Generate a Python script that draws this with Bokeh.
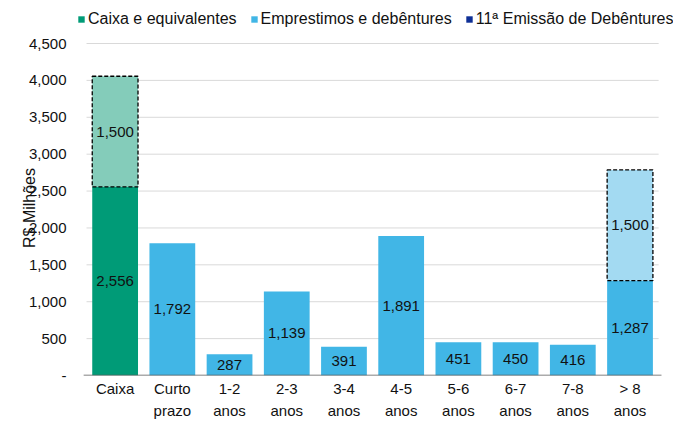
from bokeh.plotting import figure
from bokeh.models import ColumnDataSource, Legend, LegendItem, NumeralTickFormatter, Range1d, FixedTicker
from bokeh.core.properties import value
from bokeh.embed import file_html
from bokeh.resources import INLINE

categories = ["Caixa", "Curto prazo", "1-2 anos", "2-3 anos", "3-4 anos", "4-5 anos",
              "5-6 anos", "6-7 anos", "7-8 anos", "> 8 anos"]
tick_labels = ["Caixa", "Curto\nprazo", "1-2\nanos", "2-3\nanos", "3-4\nanos", "4-5\nanos",
               "5-6\nanos", "6-7\nanos", "7-8\nanos", "> 8\nanos"]
base_values = [2556, 1792, 287, 1139, 391, 1891, 451, 450, 416, 1287]
issue_categories = ["Caixa", "> 8 anos"]
issue_values = [1500, 1500]
series_names = ["Caixa e equivalentes", "Emprestimos e debêntures", "11ª Emissão de Debêntures"]
y_ticks = [0, 500, 1000, 1500, 2000, 2500, 3000, 3500, 4000, 4500]
y_title = "R$ Milhões"

GREEN = "#009B77"
LIGHT_GREEN = "#84CCBA"
BLUE = "#41B6E6"
LIGHT_BLUE = "#A3DAF2"
NAVY = "#0E2F96"
FONT = "Liberation Sans"

n = len(categories)
xpos = list(range(n))

base_colors = [GREEN if c == "Caixa" else BLUE for c in categories]
base_src = ColumnDataSource(dict(
    x=xpos, top=base_values, color=base_colors,
    mid=[v / 2 for v in base_values], label=[f"{v:,}" for v in base_values]))

issue_x = [categories.index(c) for c in issue_categories]
issue_bottoms = [base_values[i] for i in issue_x]
issue_src = ColumnDataSource(dict(
    x=issue_x, bottom=issue_bottoms,
    top=[b + v for b, v in zip(issue_bottoms, issue_values)],
    color=[LIGHT_GREEN if c == "Caixa" else LIGHT_BLUE for c in issue_categories],
    mid=[b + v / 2 for b, v in zip(issue_bottoms, issue_values)],
    label=[f"{v:,}" for v in issue_values]))

p = figure(x_range=Range1d(-0.78, 9.76), y_range=Range1d(0, 5083),
           width=673, height=421, output_backend="svg", toolbar_location=None,
           min_border_left=70, min_border_right=0, min_border_top=0, min_border_bottom=43)
p.outline_line_color = None
p.background_fill_color = "white"
p.grid.visible = False

# horizontal gridlines spanning the category extent
p.segment(x0=-0.5, x1=n - 0.5, y0=y_ticks[1:], y1=y_ticks[1:], line_color="#D9D9D9", line_width=1)

r_base = p.vbar(x="x", top="top", width=0.8, color="color", source=base_src, line_color=None)
r_issue = p.vbar(x="x", bottom="bottom", top="top", width=0.8, fill_color="color",
                 source=issue_src, line_color="black", line_dash="4 2", line_width=1.3)

# x axis baseline
p.segment(x0=-0.55, x1=n - 0.45, y0=0, y1=0, line_color="#595959", line_width=1.3)

# legend-only renderers (zero-height)
r_green = p.vbar(x=[0], top=[0], width=0.8, fill_color=GREEN, line_color=None)
r_blue = p.vbar(x=[0], top=[0], width=0.8, fill_color=BLUE, line_color=None)
r_navy = p.vbar(x=[0], top=[0], width=0.8, fill_color=NAVY, line_color=None)

for src in (base_src, issue_src):
    p.text(x="x", y="mid", text="label", source=src,
           text_align="center", text_baseline="middle",
           text_font=value(FONT), text_font_size="15px", text_color="#111111")

p.xaxis.ticker = FixedTicker(ticks=xpos)
p.xaxis.major_label_overrides = {i: t for i, t in zip(xpos, tick_labels)}
p.xaxis.axis_line_color = None
p.xaxis.major_tick_line_color = None
p.xaxis.minor_tick_line_color = None
p.xaxis.major_tick_out = 0
p.xaxis.major_tick_in = 0
p.xaxis.major_label_text_font = FONT
p.xaxis.major_label_text_font_size = "15px"
p.xaxis.major_label_text_color = "#111111"
p.xaxis.major_label_standoff = 4
p.xaxis.major_label_text_line_height = 1.3

p.yaxis.ticker = FixedTicker(ticks=y_ticks)
p.yaxis.formatter = NumeralTickFormatter(format="0,0")
p.yaxis.major_label_overrides = {0: "-"}
p.yaxis.axis_line_color = None
p.yaxis.major_tick_line_color = None
p.yaxis.minor_tick_line_color = None
p.yaxis.major_tick_out = 0
p.yaxis.major_tick_in = 0
p.yaxis.major_label_text_font = FONT
p.yaxis.major_label_text_font_size = "15px"
p.yaxis.major_label_text_color = "#111111"
p.yaxis.major_label_standoff = 4
# trailing no-break spaces shift the centred (rotated) title down toward the reference position
p.yaxis.axis_label = y_title + "\u00a0" * 9
p.yaxis.axis_label_text_font = FONT
p.yaxis.axis_label_text_font_size = "16px"
p.yaxis.axis_label_text_font_style = "normal"
p.yaxis.axis_label_text_color = "#111111"
p.yaxis.axis_label_standoff = -12

legend = Legend(items=[LegendItem(label=series_names[0], renderers=[r_green]),
                       LegendItem(label=series_names[1], renderers=[r_blue]),
                       LegendItem(label=series_names[2], renderers=[r_navy])],
                orientation="horizontal", location=(7, 346),
                label_text_font=FONT, label_text_font_size="16px", label_text_color="#111111",
                glyph_width=8, glyph_height=8, label_standoff=3, spacing=13, label_height=20,
                padding=0, margin=0, border_line_color=None, background_fill_alpha=0)
p.add_layout(legend)

open("out.html", "w").write(file_html(p, INLINE))
